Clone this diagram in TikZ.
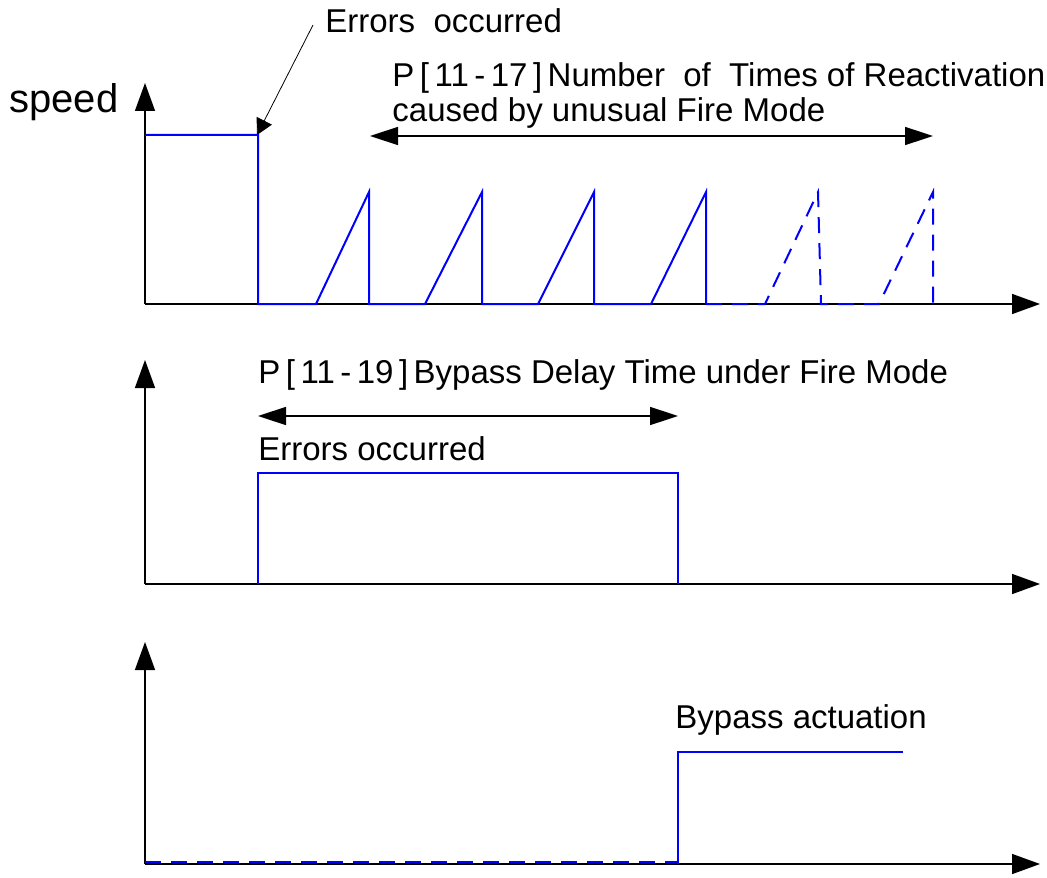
\documentclass[tikz,border=0pt]{standalone}
\usepackage{fontspec}
\setmainfont{Liberation Sans}
\usetikzlibrary{arrows.meta}

\begin{document}
\begin{tikzpicture}[x=0.5pt,y=-0.5pt,
  axis/.style={-{Triangle[length=14pt,width=10pt]},line width=0.75pt},
  span/.style={{Triangle[length=14pt,width=9pt]}-{Triangle[length=14pt,width=9pt]},line width=0.75pt},
  lead/.style={-{Triangle[length=8pt,width=8.5pt]},line width=0.4pt},
  sig/.style={blue,line width=1pt},
  sigdash/.style={sig,dash pattern=on 8pt off 5pt},
  lbl/.style={font=\fontsize{16.5}{19}\selectfont,inner sep=0pt,anchor=base west}]
  \useasboundingbox (0,0) rectangle (1047,877);

  % axes
  \coordinate (o1) at (145,304);
  \coordinate (y1) at (145,83);
  \coordinate (x1) at (1040,304);
  \coordinate (o2) at (145,584);
  \coordinate (y2) at (145,360);
  \coordinate (x2) at (1040,584);
  \coordinate (o3) at (145,864);
  \coordinate (y3) at (145,642);
  \coordinate (x3) at (1040,864);
  \draw[axis] (o1) -- (y1);
  \draw[axis] (o1) -- (x1);
  \draw[axis] (o2) -- (y2);
  \draw[axis] (o2) -- (x2);
  \draw[axis] (o3) -- (y3);
  \draw[axis] (o3) -- (x3);

  % labels
  \node[lbl,font=\fontsize{20}{24}\selectfont] (speed) at (9,113) {speed};
  \node[lbl] (err1) at (325,33) {Errors\ \ occurred};
  \node[lbl] (p1117) at (392,87) {P\,[\,11\,-\,17\,]\,Number\ \ of\ \ Times of Reactivation};
  \node[lbl] (cause) at (392,122) {caused by unusual Fire Mode};
  \node[lbl] (p1119) at (258,383) {P\,[\,11\,-\,19\,]\,Bypass Delay Time under Fire Mode};
  \node[lbl] (err2) at (258,460) {Errors occurred};
  \node[lbl] (bypass) at (675,728) {Bypass actuation};

  % speed
  \coordinate (errtip) at (257,135);
  \draw[lead] ([xshift=-6pt,yshift=4pt]err1.base west) -- (errtip);
  \draw[sig] (145,135) -- (258,135) -- (258,304) -- (316,304) -- (369,192) -- (369,304)
    -- (425,304) -- (482,192) -- (482,304) -- (538,304) -- (594,192) -- (594,304)
    -- (651,304) -- (706,192) -- (706,304);
  \draw[sigdash] (706,304) -- (765,304) -- (818,192) -- (821,304) -- (879,304)
    -- (933,192) -- (933,304);
  \coordinate (s1a) at (370,136);
  \coordinate (s1b) at (933,136);
  \draw[span] (s1a) -- (s1b);

  % errors
  \draw[sig] (258,584) -- (258,473) -- (678,473) -- (678,584);
  \coordinate (s2a) at (258,416);
  \coordinate (s2b) at (678,416);
  \draw[span] (s2a) -- (s2b);

  % bypass
  \draw[sigdash] (145,862) -- (678,862);
  \draw[sig] (678,864) -- (678,752) -- (903,752);
\end{tikzpicture}
\end{document}
